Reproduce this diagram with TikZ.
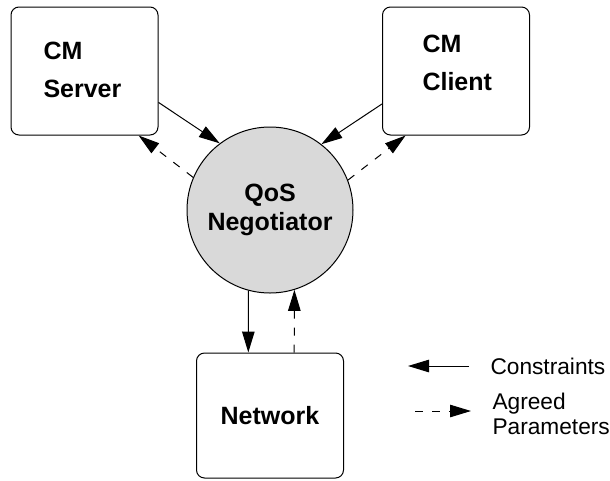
\documentclass[tikz,border=0pt]{standalone}
\usepackage{fontspec}
\setmainfont{Liberation Sans}
\usetikzlibrary{arrows.meta, calc}

\begin{document}
\begin{tikzpicture}[x=1pt, y=-1pt, >={Triangle[length=21pt, width=12.5pt]}, line width=1pt,
    box/.style={draw, rounded corners=8pt, minimum width=147pt, minimum height=128pt, inner sep=0pt},
    lbl/.style={font=\fontsize{25}{38}\selectfont\bfseries, align=left, anchor=west, inner sep=0pt},
    legend/.style={font=\fontsize{22.7}{25}\selectfont, align=left, anchor=west, inner sep=0pt},
    agreed/.style={->, dash pattern=on 8pt off 9pt}]
    \useasboundingbox (0,0) rectangle (610,480);

    % Nodes
    \node[box] (server) at (84.5,71) {};
    \node[box] (client) at (456,71) {};
    \node[circle, draw, fill=gray!30, minimum size=166pt, inner sep=0pt, align=center,
        font=\fontsize{25}{29}\selectfont\bfseries] (neg) at (270,210) {QoS\\Negotiator};
    \node[box, minimum height=125pt, font=\fontsize{25}{29}\selectfont\bfseries] (net) at (270,415.5) {Network};

    % Box texts
    \node[lbl] (serverlbl) at (43,70) {CM\\Server};
    \node[lbl] (clientlbl) at (422,63) {CM\\Client};

    % Edges
    \draw[->] (server.-23.5) -- (neg.127);
    \draw[agreed] (neg.157) -- (server.-50.6);
    \draw[->] (client.-156.3) -- (neg.52.4);
    \draw[agreed] (neg.21.5) -- (client.-128);
    \draw[->] (neg.-105.4) -- (net.109.4);
    \draw[agreed] (net.69.8) -- (neg.-73.9);

    % Legend
    \coordinate (cfrom) at (469,366);
    \coordinate (cto) at (408,366);
    \draw[->] (cfrom) -- (cto);
    \node[legend] (conlbl) at (490,366) {Constraints};
    \coordinate (afrom) at (415,411);
    \coordinate (ato) at (471,411);
    \draw[agreed] (afrom) -- (ato);
    \node[legend] (agrlbl) at (492,414) {Agreed\\Parameters};
\end{tikzpicture}
\end{document}
